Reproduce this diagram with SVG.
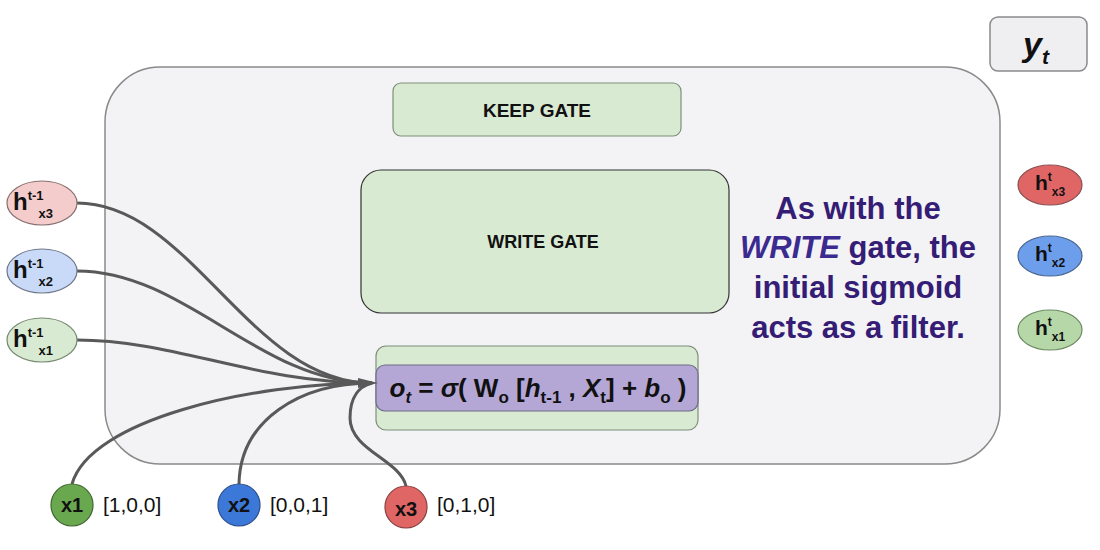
<svg xmlns="http://www.w3.org/2000/svg" width="1100" height="550" viewBox="0 0 1100 550">
<style>
.t{font-family:"Liberation Sans",Arial,sans-serif;font-weight:bold;fill:#111}
.c{fill:none;stroke:#595959;stroke-width:3}
.note{font-family:"Liberation Sans",Arial,sans-serif;font-weight:bold;font-size:31px;fill:#351c75}
.v{font-family:"Liberation Sans",Arial,sans-serif;font-size:21px;fill:#111}
</style>
<rect width="1100" height="550" fill="#ffffff"/>
<g id="cell">
<rect x="105" y="67" width="895" height="397" rx="55" fill="#f3f2f5" stroke="#8a8a8a" stroke-width="1.5"/>
</g>
<g id="yt">
<rect x="990" y="17" width="97" height="54" rx="8" fill="#efeff1" stroke="#8a8a8a" stroke-width="1.5"/>
<text class="t" x="1036" y="56" font-size="34" text-anchor="middle" font-style="italic">y<tspan font-size="21" dy="8">t</tspan></text>
</g>
<g id="keep">
<rect x="393" y="83" width="288" height="53" rx="8" fill="#d9ead3" stroke="#7f8f7a" stroke-width="1.2"/>
<text class="t" x="537" y="117" font-size="19" text-anchor="middle">KEEP GATE</text>
</g>
<g id="write">
<rect x="361" y="170" width="368" height="143" rx="20" fill="#d9ead3" stroke="#333" stroke-width="1.2"/>
<text class="t" x="543" y="248" font-size="18" text-anchor="middle">WRITE GATE</text>
</g>
<g id="formula">
<rect x="376" y="346" width="322" height="84" rx="10" fill="#d9ead3" stroke="#7f8f7a" stroke-width="1.2"/>
<rect x="376" y="365" width="322" height="46" rx="9" fill="#b4a7d6" stroke="#6f6a85" stroke-width="1.2"/>
<text class="t" x="538" y="397" font-size="26" text-anchor="middle"><tspan font-style="italic">o</tspan><tspan font-size="17" dy="6" font-style="italic">t</tspan><tspan dy="-6"> = </tspan><tspan font-style="italic">σ</tspan><tspan>( W</tspan><tspan font-size="17" dy="6">o</tspan><tspan dy="-6"> [</tspan><tspan font-style="italic">h</tspan><tspan font-size="17" dy="6">t-1</tspan><tspan dy="-6"> , </tspan><tspan font-style="italic">X</tspan><tspan font-size="17" dy="6">t</tspan><tspan dy="-6">] + </tspan><tspan font-style="italic">b</tspan><tspan font-size="17" dy="6">o</tspan><tspan dy="-6"> )</tspan></text>
</g>
<g id="note">
<text class="note" x="858" y="219" text-anchor="middle">As with the</text>
<text class="note" x="858" y="258" text-anchor="middle"><tspan font-style="italic" fill="#3b2a8f">WRITE</tspan> gate, the</text>
<text class="note" x="858" y="298" text-anchor="middle">initial sigmoid</text>
<text class="note" x="858" y="338" text-anchor="middle">acts as a filter.</text>
</g>
<g id="connectors">
<path class="c" d="M77,203 C190,203 250,383 372,383"/>
<path class="c" d="M77,271 C185,271 260,383 372,383"/>
<path class="c" d="M77,340 C175,340 255,383 372,383"/>
<path class="c" d="M72,484 C90,420 250,383 372,383"/>
<path class="c" d="M239,484 C240,420 300,383 372,383"/>
<path class="c" d="M406,486 C400,460 350,450 350,418 C350,396 360,386 372,383"/>
<path d="M358,378 L378,383 L358,388 z" fill="#595959"/>
</g>
<g id="hx3">
<ellipse cx="42" cy="203" rx="35" ry="22" fill="#f4cccc" stroke="#8a7070" stroke-width="1.2"/>
<text class="t" x="13" y="210" font-size="24">h<tspan font-size="13" dy="-10">t-1</tspan><tspan font-size="13" dx="-5" dy="18">x3</tspan></text>
</g>
<g id="hx2">
<ellipse cx="42" cy="271" rx="35" ry="22" fill="#c9daf8" stroke="#70788a" stroke-width="1.2"/>
<text class="t" x="13" y="278" font-size="24">h<tspan font-size="13" dy="-10">t-1</tspan><tspan font-size="13" dx="-5" dy="18">x2</tspan></text>
</g>
<g id="hx1">
<ellipse cx="42" cy="340" rx="35" ry="22" fill="#d9ead3" stroke="#768a70" stroke-width="1.2"/>
<text class="t" x="13" y="347" font-size="24">h<tspan font-size="13" dy="-10">t-1</tspan><tspan font-size="13" dx="-5" dy="18">x1</tspan></text>
</g>
<g id="ht3">
<ellipse cx="1050" cy="185" rx="32" ry="20" fill="#e06666" stroke="#8a5050" stroke-width="1.2"/>
<text class="t" x="1035" y="190" font-size="21">h<tspan font-size="12" dy="-9">t</tspan><tspan font-size="12" dx="0" dy="15">x3</tspan></text>
</g>
<g id="ht2">
<ellipse cx="1050" cy="256" rx="32" ry="20" fill="#6d9eeb" stroke="#4a6690" stroke-width="1.2"/>
<text class="t" x="1035" y="261" font-size="21">h<tspan font-size="12" dy="-9">t</tspan><tspan font-size="12" dx="0" dy="15">x2</tspan></text>
</g>
<g id="ht1">
<ellipse cx="1050" cy="330" rx="32" ry="20" fill="#b6d7a8" stroke="#6c8a60" stroke-width="1.2"/>
<text class="t" x="1035" y="335" font-size="21">h<tspan font-size="12" dy="-9">t</tspan><tspan font-size="12" dx="0" dy="15">x1</tspan></text>
</g>
<g id="x1">
<circle cx="72" cy="505" r="21" fill="#6aa84f" stroke="#3f6630" stroke-width="1.2"/>
<text class="t" x="72" y="512" font-size="20" text-anchor="middle">x1</text>
<text class="v" x="103" y="512">[1,0,0]</text>
</g>
<g id="x2">
<circle cx="239" cy="505" r="21" fill="#3c78d8" stroke="#2a4f8c" stroke-width="1.2"/>
<text class="t" x="239" y="512" font-size="20" text-anchor="middle">x2</text>
<text class="v" x="270" y="512">[0,0,1]</text>
</g>
<g id="x3">
<circle cx="406" cy="507" r="21" fill="#e06666" stroke="#8a4040" stroke-width="1.2"/>
<text class="t" x="406" y="516" font-size="20" text-anchor="middle">x3</text>
<text class="v" x="437" y="512">[0,1,0]</text>
</g>
</svg>
